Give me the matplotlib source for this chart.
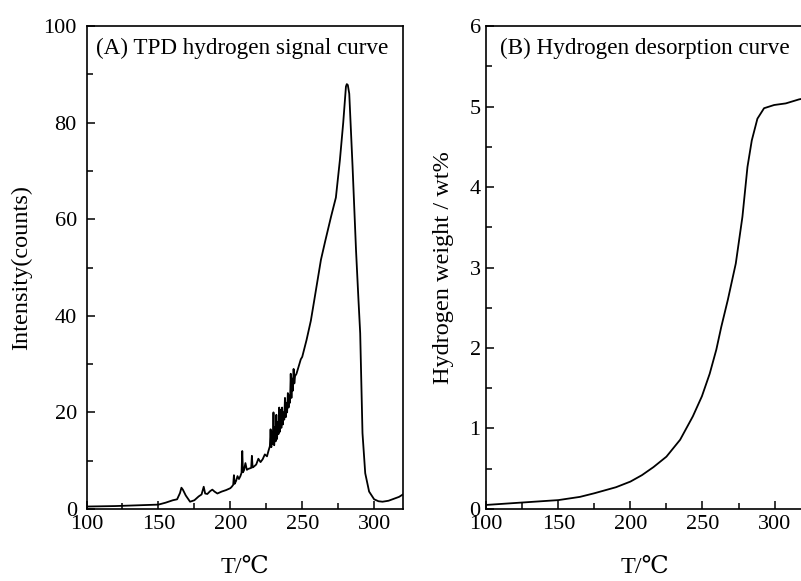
import matplotlib
matplotlib.use("Agg")
import matplotlib.pyplot as plt
from matplotlib.ticker import MultipleLocator

plt.rcParams['font.family'] = ['Liberation Serif', 'DejaVu Serif', 'Noto Sans CJK SC']

# (A) TPD hydrogen signal curve
tpd_t = [100, 110, 120, 130, 140, 150, 155, 160, 163, 165, 166, 167, 169, 172,
         175, 178, 180, 181.5, 182.5, 184, 186, 187.5, 189, 191, 194, 197, 200,
         201, 202, 202.5, 203, 204, 205, 206, 207, 207.8, 208.3, 208.8, 209.5,
         210.5, 211.5, 212.5, 213.5, 214.5, 215, 215.5, 216.5, 218, 219.5, 221,
         222.5, 224, 225.5, 226.5, 227.5, 228, 228.5, 229, 229.5, 230, 230.5,
         231, 231.5, 232, 232.5, 233, 233.5, 234, 234.5, 235, 235.5, 236, 236.5,
         237, 237.5, 238, 238.5, 239, 239.5, 240, 240.5, 241, 241.5, 242, 242.5,
         243, 243.5, 244, 244.5, 245, 246, 247, 248, 249, 250,
         253, 256, 258.4, 263, 266, 270, 273.4, 276.2, 278.5, 280.4, 281, 281.7,
         282.7, 285, 287.4, 289.1, 290.3, 291.9, 293.8, 296.5, 300, 303, 305.8,
         310, 317.3, 320]
tpd_i = [0.5, 0.55, 0.6, 0.7, 0.8, 0.9, 1.3, 1.8, 2.0, 3.3, 4.4, 4.0, 2.8, 1.5,
         1.8, 2.6, 3.0, 4.6, 3.2, 3.1, 3.7, 4.0, 3.6, 3.2, 3.6, 3.9, 4.3,
         4.6, 5.0, 7.0, 5.2, 5.8, 6.8, 6.2, 6.8, 7.5, 12.0, 7.6, 8.0,
         9.5, 8.1, 8.3, 8.4, 8.5, 11.0, 8.6, 8.8, 9.2, 10.4, 9.7,
         10.3, 11.3, 10.9, 12.0, 13.0, 16.5, 12.8, 16.0, 13.5, 20.0, 13.2,
         17.0, 14.0, 19.5, 14.5, 18.0, 15.5, 21.0, 16.0, 20.5, 16.8, 21.0, 17.5,
         20.0, 18.5, 23.0, 19.0, 22.0, 20.0, 24.0, 21.0, 23.5, 22.0, 28.0, 23.0,
         27.0, 24.5, 29.0, 26.0, 27.5, 28.0, 29.0, 30.0, 31.0, 31.5,
         35.0, 39.0, 43.3, 51.6, 55.5, 60.5, 64.5, 72.3, 80.0, 87.5, 88.0, 87.8,
         86.0, 70.9, 53.6, 43.3, 36.4, 15.7, 7.4, 3.6, 2.0, 1.6, 1.5,
         1.7, 2.5, 3.0]

# (B) Hydrogen desorption curve
des_t = [100, 125, 150, 165, 175, 190, 200, 208, 216, 225, 234.5, 243.3, 249.6,
         255, 259.6, 263, 267.6, 273.1, 277.7, 281.2, 284.2, 288.1, 292.7,
         299.7, 307.8, 317, 320]
des_w = [0.05, 0.08, 0.11, 0.15, 0.195, 0.27, 0.34, 0.42, 0.52, 0.65, 0.86,
         1.15, 1.40, 1.68, 1.98, 2.26, 2.60, 3.05, 3.63, 4.25, 4.58, 4.85, 4.98,
         5.02, 5.04, 5.09, 5.10]


def style_axes(ax, ymax, ymajor, ypad):
    ax.set_xlim(100, 320)
    ax.set_ylim(0, ymax)
    ax.xaxis.set_major_locator(MultipleLocator(50))
    ax.xaxis.set_minor_locator(MultipleLocator(25))
    ax.yaxis.set_major_locator(MultipleLocator(ymajor))
    ax.yaxis.set_minor_locator(MultipleLocator(ymajor / 2))
    ax.tick_params(which='both', direction='in', top=False, right=False,
                   labelsize=16, width=1.1)
    ax.tick_params(axis='x', pad=4)
    ax.tick_params(axis='y', pad=ypad)
    ax.tick_params(which='major', length=6)
    ax.tick_params(which='minor', length=4)
    for s in ax.spines.values():
        s.set_linewidth(1.2)


fig = plt.figure(figsize=(8.01, 5.81), dpi=100)
ax1 = fig.add_axes([0.108, 0.124, 0.395, 0.831])
ax2 = fig.add_axes([0.607, 0.124, 0.396, 0.831])

ax1.plot(tpd_t, tpd_i, color='black', lw=1.3)
style_axes(ax1, 100, 20, 7)
ax1.set_xlabel('T/℃', fontsize=17.5)
ax1.xaxis.set_label_coords(0.5, -0.1)
ax1.set_ylabel('Intensity(counts)', fontsize=17.5)
ax1.yaxis.set_label_coords(-0.172, 0.5)
ax1.text(0.03, 0.975, '(A) TPD hydrogen signal curve', transform=ax1.transAxes,
         fontsize=16.7, va='top', ha='left')

ax2.plot(des_t, des_w, color='black', lw=1.3)
style_axes(ax2, 6, 1, 4)
ax2.set_xlabel('T/℃', fontsize=17.5)
ax2.xaxis.set_label_coords(0.5, -0.1)
ax2.set_ylabel('Hydrogen weight / wt%', fontsize=17.5)
ax2.yaxis.set_label_coords(-0.102, 0.5)
ax2.text(0.044, 0.975, '(B) Hydrogen desorption curve', transform=ax2.transAxes,
         fontsize=16.7, va='top', ha='left')

fig.savefig('out.png', dpi=100)
